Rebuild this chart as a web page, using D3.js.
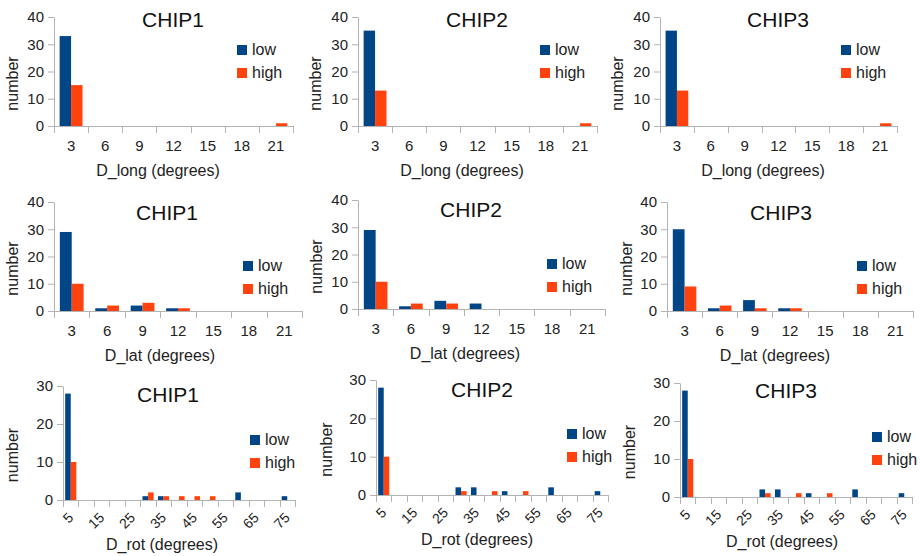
<!DOCTYPE html>
<html lang="en">
<head>
<meta charset="utf-8" />
<title></title>
<script src="https://cdn.jsdelivr.net/npm/d3@7"></script>
<style type="text/css">
  body { margin: 0; background: #fff; }
  svg { display: block; font-family: "Liberation Sans", Arial, sans-serif; }
  .ax path, .ax line { stroke: #b3b3b3; }
  .ax text { fill: #222; font-size: 15px; }
  .rl { fill: #222; font-size: 14px; }
</style>
</head>
<body>
<script type="text/javascript">
// values
var chips = ["CHIP1", "CHIP2", "CHIP3"];
var series = ["low", "high"];
var colors = ["#004586", "#ff420e"];

var longCats = ["3", "6", "9", "12", "15", "18", "21"];
var latCats = ["3", "6", "9", "12", "15", "18", "21"];
var rotCats = ["5", "10", "15", "20", "25", "30", "35", "40", "45", "50", "55", "60", "65", "70", "75"];

var longLow = [[33, 0, 0, 0, 0, 0, 0], [35, 0, 0, 0, 0, 0, 0], [35, 0, 0, 0, 0, 0, 0]];
var longHigh = [[15, 0, 0, 0, 0, 0, 1], [13, 0, 0, 0, 0, 0, 1], [13, 0, 0, 0, 0, 0, 1]];

var latLow = [[29, 1, 2, 1, 0, 0, 0], [29, 1, 3, 2, 0, 0, 0], [30, 1, 4, 1, 0, 0, 0]];
var latHigh = [[10, 2, 3, 1, 0, 0, 0], [10, 2, 2, 0, 0, 0, 0], [9, 2, 1, 1, 0, 0, 0]];

var rotLow = [[28, 0, 0, 0, 0, 1, 1, 0, 0, 0, 0, 2, 0, 0, 1],
              [28, 0, 0, 0, 0, 2, 2, 0, 1, 0, 0, 2, 0, 0, 1],
              [28, 0, 0, 0, 0, 2, 2, 0, 1, 0, 0, 2, 0, 0, 1]];
var rotHigh = [[10, 0, 0, 0, 0, 2, 1, 1, 1, 1, 0, 0, 0, 0, 0],
               [10, 0, 0, 0, 0, 1, 0, 1, 0, 1, 0, 0, 0, 0, 0],
               [10, 0, 0, 0, 0, 1, 0, 1, 0, 1, 0, 0, 0, 0, 0]];

var rows = [
    { cats: longCats, low: longLow, high: longHigh, yTicks: [0, 10, 20, 30, 40], xTitle: "D_long (degrees)", rotate: false },
    { cats: latCats, low: latLow, high: latHigh, yTicks: [0, 10, 20, 30, 40], xTitle: "D_lat (degrees)", rotate: false },
    { cats: rotCats, low: rotLow, high: rotHigh, yTicks: [0, 10, 20, 30], xTitle: "D_rot (degrees)", rotate: true }
];

// panel geometry (plot box, title, legend)
var panels = [
    // row 1
    { r: 0, c: 0, x0: 54, x1: 293, yT: 17, yB: 126, tx: 173, ty: 27, lx: 237, ly: 45, xtx: 158, ylx: 13 },
    { r: 0, c: 1, x0: 358, x1: 597, yT: 17, yB: 126, tx: 477, ty: 27, lx: 540, ly: 45, xtx: 462, ylx: 316 },
    { r: 0, c: 2, x0: 660, x1: 897, yT: 17, yB: 126, tx: 778, ty: 27, lx: 841, ly: 45, xtx: 763, ylx: 618 },
    // row 2
    { r: 1, c: 0, x0: 54, x1: 302, yT: 202, yB: 311, tx: 167, ty: 220, lx: 243, ly: 261, xtx: 160, ylx: 13 },
    { r: 1, c: 1, x0: 358, x1: 605, yT: 200, yB: 309, tx: 471, ty: 217, lx: 547, ly: 259, xtx: 465, ylx: 317 },
    { r: 1, c: 2, x0: 667, x1: 913, yT: 202, yB: 311, tx: 781, ty: 220, lx: 857, ly: 261, xtx: 775, ylx: 627 },
    // row 3
    { r: 2, c: 0, x0: 63, x1: 295, yT: 386, yB: 500, tx: 168, ty: 402, lx: 250, ly: 435, xtx: 162, ylx: 13 },
    { r: 2, c: 1, x0: 376, x1: 608, yT: 380, yB: 495, tx: 482, ty: 397, lx: 567, ly: 429, xtx: 477, ylx: 327 },
    { r: 2, c: 2, x0: 680, x1: 912, yT: 383, yB: 497, tx: 786, ty: 398, lx: 872, ly: 432, xtx: 782, ylx: 630 }
];

var svg = d3.select("body").append("svg")
    .attr("width", 921)
    .attr("height", 556);

panels.forEach(function (p) {
    var row = rows[p.r];
    var low = row.low[p.c], high = row.high[p.c];
    var yMax = row.yTicks[row.yTicks.length - 1];
    var g = svg.append("g");

    var pad = row.rotate ? 0.28 : 0.33;
    var x = d3.scaleBand().domain(row.cats).range([p.x0, p.x1]).paddingInner(pad).paddingOuter(pad / 2);
    var xs = d3.scaleBand().domain(series).range([0, x.bandwidth()]);
    var y = d3.scaleLinear().domain([0, yMax]).range([p.yB, p.yT]);

    // bars
    var vals = [low, high];
    series.forEach(function (s, si) {
        g.selectAll("rect." + s)
            .data(row.cats.map(function (cat, i) { return { cat: cat, v: vals[si][i] }; }).filter(function (d) { return d.v > 0; }))
            .enter().append("rect")
            .attr("class", s)
            .attr("x", function (d) { return x(d.cat) + xs(s); })
            .attr("width", xs.bandwidth())
            .attr("y", function (d) { return y(d.v); })
            .attr("height", function (d) { return y(0) - y(d.v); })
            .attr("fill", colors[si]);
    });

    // y axis
    g.append("g").attr("class", "ax")
        .attr("transform", "translate(" + p.x0 + ",0)")
        .call(d3.axisLeft(y).tickValues(row.yTicks).tickSize(6).tickSizeOuter(0).tickPadding(4));

    // x axis: labels at centres, ticks at category boundaries
    var xLabels = row.rotate ? [] : row.cats;
    var xa = g.append("g").attr("class", "ax")
        .attr("transform", "translate(0," + p.yB + ")")
        .call(d3.axisBottom(x).tickValues(xLabels).tickSize(0).tickPadding(16));
    xa.select(".domain").attr("d", "M" + p.x0 + ",0.5H" + p.x1);
    xa.selectAll(".tick text").attr("dy", "0.35em").attr("y", 20);

    var bounds = row.cats.map(function (d) { return x(d) - x.step() * x.paddingInner() / 2; });
    bounds.push(p.x1);
    xa.selectAll("line.bt").data(bounds).enter().append("line")
        .attr("class", "bt")
        .attr("x1", function (d) { return Math.round(d) + 0.5; })
        .attr("x2", function (d) { return Math.round(d) + 0.5; })
        .attr("y1", 0).attr("y2", 7);

    if (row.rotate) {
        // every other label, turned 45 degrees
        g.selectAll("text.rl")
            .data(row.cats.filter(function (d, i) { return i % 2 === 0; }))
            .enter().append("text")
            .attr("class", "rl")
            .attr("text-anchor", "end")
            .attr("dy", "0.35em")
            .attr("transform", function (d) {
                return "translate(" + (x(d) + x.bandwidth() / 2) + "," + (p.yB + 15) + ") rotate(-45)";
            })
            .text(function (d) { return d; });
    }

    // titles
    g.append("text")
        .attr("x", p.tx).attr("y", p.ty)
        .attr("text-anchor", "middle")
        .style("font-size", "21px").style("fill", "#111")
        .text(chips[p.c]);

    g.append("text")
        .attr("x", p.xtx).attr("y", p.yB + 50)
        .attr("text-anchor", "middle")
        .style("font-size", "16px").style("fill", "#222")
        .text(row.xTitle);

    var yc = (p.yT + p.yB) / 2 + 12;
    g.append("text")
        .attr("transform", "translate(" + (p.ylx + 5) + "," + yc + ") rotate(-90)")
        .attr("text-anchor", "middle")
        .style("font-size", "16px").style("fill", "#222")
        .text("number");

    // legend
    series.forEach(function (s, si) {
        var ly = p.ly + si * 23;
        g.append("rect")
            .attr("x", p.lx).attr("y", ly)
            .attr("width", 10).attr("height", 10)
            .attr("fill", colors[si]);
        g.append("text")
            .attr("x", p.lx + 15).attr("y", ly + 10)
            .style("font-size", "16px").style("fill", "#222")
            .text(s);
    });
});
</script>
</body>
</html>
